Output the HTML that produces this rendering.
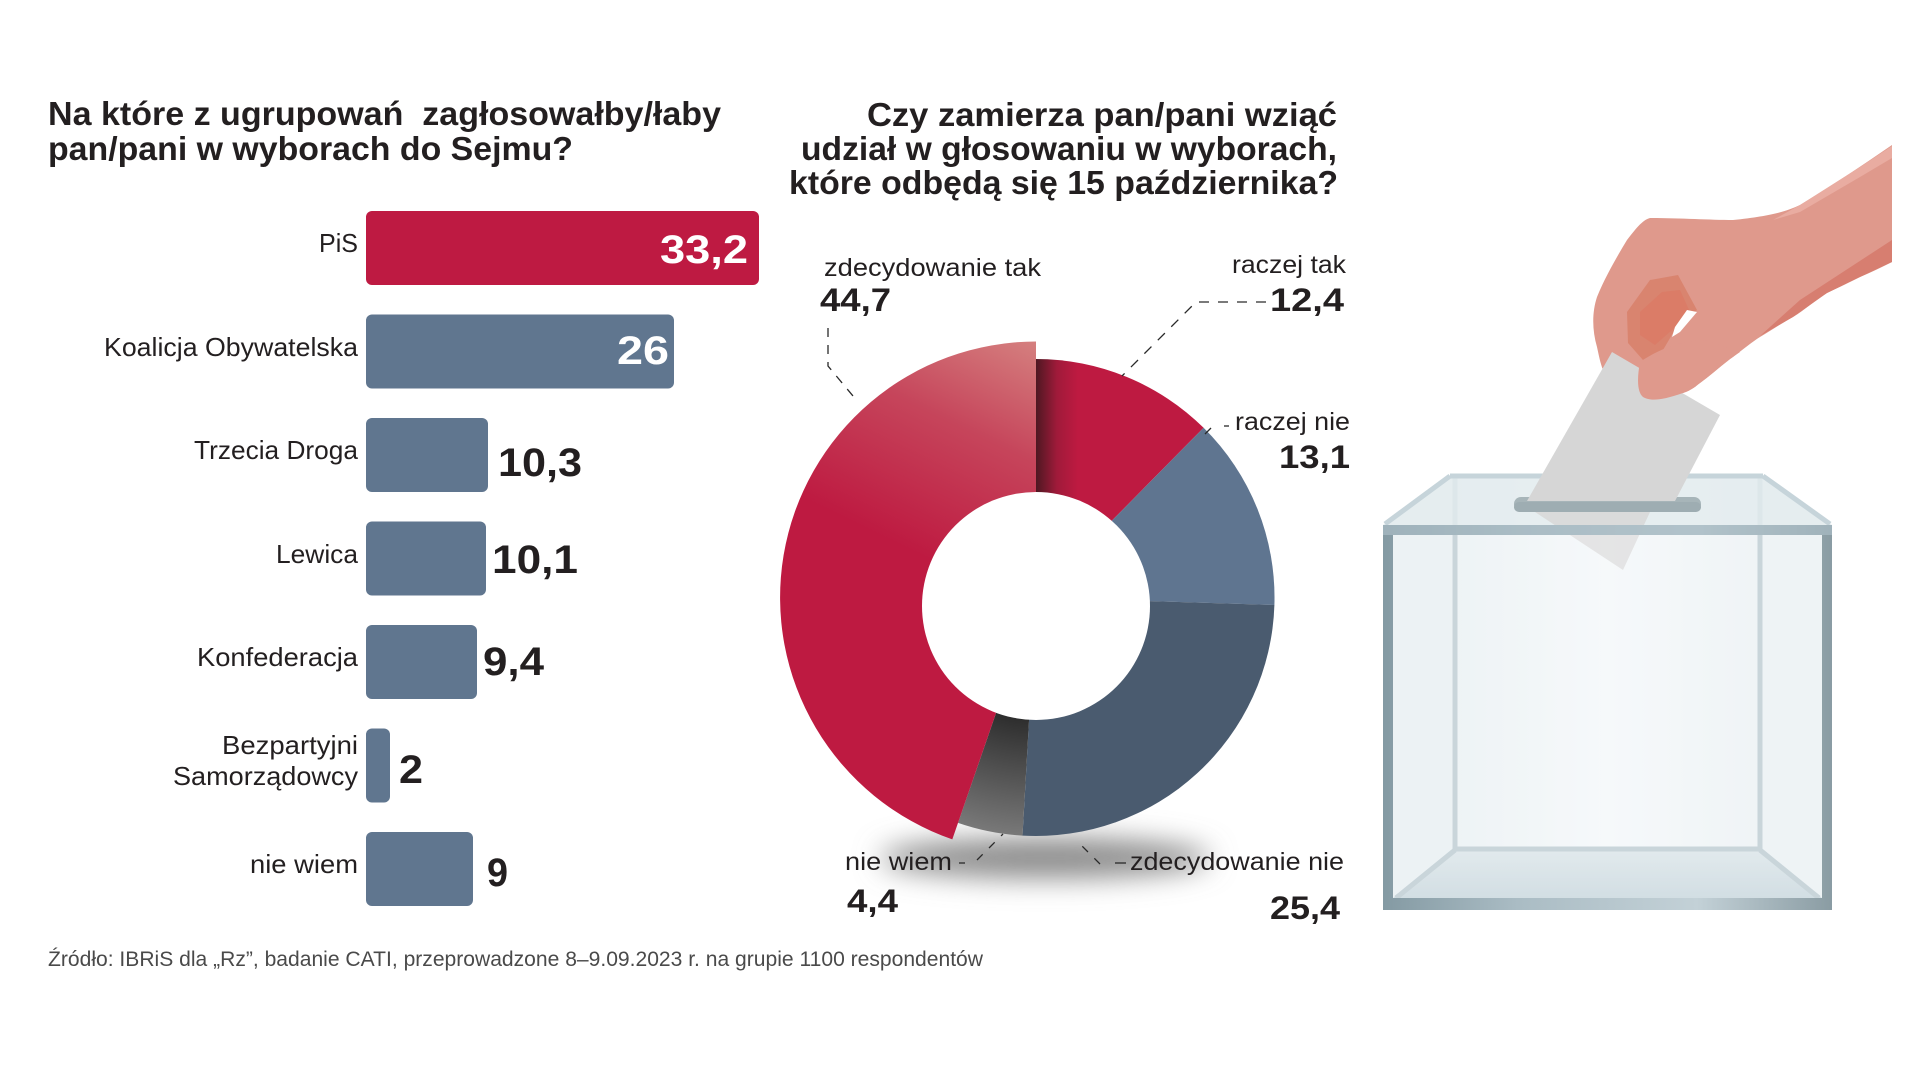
<!DOCTYPE html>
<html>
<head>
<meta charset="utf-8">
<style>
  html,body{margin:0;padding:0;background:#ffffff;}
  svg{display:block;}
  text{font-family:"Liberation Sans", sans-serif; white-space:pre;}
</style>
</head>
<body>
<svg width="1919" height="1080" viewBox="0 0 1919 1080" xmlns="http://www.w3.org/2000/svg">
  <defs>
    <linearGradient id="bigG" gradientUnits="userSpaceOnUse" x1="1036" y1="341" x2="930" y2="560">
      <stop offset="0" stop-color="#d5807f"/>
      <stop offset="0.45" stop-color="#c6455b"/>
      <stop offset="1" stop-color="#be1a41"/>
    </linearGradient>
    <linearGradient id="rtG" gradientUnits="userSpaceOnUse" x1="1036" y1="0" x2="1078" y2="0">
      <stop offset="0" stop-color="#4e1822"/>
      <stop offset="0.5" stop-color="#a01a3a"/>
      <stop offset="1" stop-color="#be1a41"/>
    </linearGradient>
    <radialGradient id="nwG" gradientUnits="userSpaceOnUse" cx="1036" cy="600" r="240">
      <stop offset="0.45" stop-color="#262626"/>
      <stop offset="1" stop-color="#7b7b7b"/>
    </radialGradient>
    <filter id="blur" x="-50%" y="-200%" width="200%" height="500%">
      <feGaussianBlur stdDeviation="14"/>
    </filter>
    <linearGradient id="frameG" x1="0" y1="0" x2="1" y2="0">
      <stop offset="0" stop-color="#849aa3"/>
      <stop offset="0.3" stop-color="#aabcc4"/>
      <stop offset="0.7" stop-color="#c3d1d7"/>
      <stop offset="1" stop-color="#8a9ca3"/>
    </linearGradient>
    <linearGradient id="floorG" x1="0" y1="0" x2="0" y2="1">
      <stop offset="0" stop-color="#d8e3e7"/>
      <stop offset="1" stop-color="#c3d3da"/>
    </linearGradient>
    <linearGradient id="backG" x1="0" y1="0" x2="1" y2="0">
      <stop offset="0" stop-color="#e8eff2"/>
      <stop offset="0.5" stop-color="#f3f7f9"/>
      <stop offset="1" stop-color="#eaf0f3"/>
    </linearGradient>
  </defs>

  <rect width="1919" height="1080" fill="#ffffff"/>

  <!-- LEFT TITLE -->
  <g fill="#231f20" font-weight="bold" font-size="33">
    <text x="48" y="125" textLength="673" lengthAdjust="spacingAndGlyphs">Na które z ugrupowań  zagłosowałby/łaby</text>
    <text x="48" y="160" textLength="525" lengthAdjust="spacingAndGlyphs">pan/pani w wyborach do Sejmu?</text>
  </g>

  <!-- BARS -->
  <g>
    <rect x="366" y="211" width="393" height="74" rx="6" fill="#be1a42"/>
    <rect x="366" y="314.5" width="308" height="74" rx="6" fill="#60768f"/>
    <rect x="366" y="418" width="122" height="74" rx="6" fill="#60768f"/>
    <rect x="366" y="521.5" width="120" height="74" rx="6" fill="#60768f"/>
    <rect x="366" y="625" width="111" height="74" rx="6" fill="#60768f"/>
    <rect x="366" y="728.5" width="24" height="74" rx="6" fill="#60768f"/>
    <rect x="366" y="832" width="107" height="74" rx="6" fill="#60768f"/>
  </g>

  <!-- BAR LABELS -->
  <g fill="#231f20" font-size="26" text-anchor="end">
    <text x="358" y="252" textLength="39" lengthAdjust="spacingAndGlyphs">PiS</text>
    <text x="358" y="356" textLength="254" lengthAdjust="spacingAndGlyphs">Koalicja Obywatelska</text>
    <text x="358" y="459" textLength="164" lengthAdjust="spacingAndGlyphs">Trzecia Droga</text>
    <text x="358" y="563" textLength="82" lengthAdjust="spacingAndGlyphs">Lewica</text>
    <text x="358" y="666" textLength="161" lengthAdjust="spacingAndGlyphs">Konfederacja</text>
    <text x="358" y="754" textLength="136" lengthAdjust="spacingAndGlyphs">Bezpartyjni</text>
    <text x="358" y="785" textLength="185" lengthAdjust="spacingAndGlyphs">Samorządowcy</text>
    <text x="358" y="873" textLength="108" lengthAdjust="spacingAndGlyphs">nie wiem</text>
  </g>

  <!-- BAR VALUES -->
  <g font-weight="bold" font-size="40">
    <text x="748" y="263" text-anchor="end" fill="#ffffff" textLength="88" lengthAdjust="spacingAndGlyphs">33,2</text>
    <text x="669" y="364" text-anchor="end" fill="#ffffff" textLength="52" lengthAdjust="spacingAndGlyphs">26</text>
    <text x="498" y="476" fill="#231f20" textLength="84" lengthAdjust="spacingAndGlyphs">10,3</text>
    <text x="492" y="573" fill="#231f20" textLength="86" lengthAdjust="spacingAndGlyphs">10,1</text>
    <text x="483" y="675" fill="#231f20" textLength="61" lengthAdjust="spacingAndGlyphs">9,4</text>
    <text x="399" y="783" fill="#231f20" textLength="24" lengthAdjust="spacingAndGlyphs">2</text>
    <text x="487" y="886" fill="#231f20" textLength="21" lengthAdjust="spacingAndGlyphs">9</text>
  </g>

  <!-- RIGHT TITLE -->
  <g fill="#231f20" font-weight="bold" font-size="33" text-anchor="end">
    <text x="1337" y="126" textLength="470" lengthAdjust="spacingAndGlyphs">Czy zamierza pan/pani wziąć</text>
    <text x="1337" y="160" textLength="536" lengthAdjust="spacingAndGlyphs">udział w głosowaniu w wyborach,</text>
    <text x="1338" y="194" textLength="549" lengthAdjust="spacingAndGlyphs">które odbędą się 15 października?</text>
  </g>

  <!-- DONUT SHADOW -->
  <ellipse cx="1045" cy="858" rx="165" ry="20" fill="#8a8a8a" filter="url(#blur)"/>

  <!-- DONUT -->
  <g>
    <path d="M1036,597.5 L1036,359 A238.5,238.5 0 0 1 1203.6,427.8 Z" fill="url(#rtG)"/>
    <path d="M1036,597.5 L1203.6,427.8 A238.5,238.5 0 0 1 1274.4,605 Z" fill="#5f7590"/>
    <path d="M1036,597.5 L1274.4,605 A238.5,238.5 0 0 1 1022.5,835.6 Z" fill="#4a5b6f"/>
    <path d="M1036,597.5 L1022.5,835.6 A238.5,238.5 0 0 1 958,822.9 Z" fill="url(#nwG)"/>
    <path d="M1036,597.5 L952.3,839.4 A256,256 0 0 1 1036,341.5 Z" fill="url(#bigG)"/>
    <circle cx="1036" cy="606" r="114" fill="#ffffff"/>
  </g>

  <!-- DONUT LEADERS -->
  <g stroke="#2a2a2a" stroke-width="1.3" fill="none">
    <path d="M828,328 L828,366 L858,402" stroke-dasharray="9,8"/>
    <path d="M1266,302 L1196,302 L1122,376" stroke-dasharray="10,9"/>
    <path d="M1224,426 L1229,426"/>
    <path d="M1211,428 L1205,434"/>
    <path d="M1115,863 L1126,863"/>
    <path d="M1100,864 L1076,840" stroke-dasharray="8,9"/>
    <path d="M959,863 L965,863"/>
    <path d="M977,860 L1003,834" stroke-dasharray="8,9"/>
  </g>

  <!-- DONUT LABELS -->
  <g fill="#231f20" font-size="25">
    <text x="824" y="276" textLength="217" lengthAdjust="spacingAndGlyphs">zdecydowanie tak</text>
    <text x="1346" y="273" text-anchor="end" textLength="114" lengthAdjust="spacingAndGlyphs">raczej tak</text>
    <text x="1350" y="430" text-anchor="end" textLength="115" lengthAdjust="spacingAndGlyphs">raczej nie</text>
    <text x="845" y="870" textLength="107" lengthAdjust="spacingAndGlyphs">nie wiem</text>
    <text x="1130" y="870" textLength="214" lengthAdjust="spacingAndGlyphs">zdecydowanie nie</text>
  </g>
  <g fill="#231f20" font-size="32" font-weight="bold">
    <text x="820" y="311" textLength="71" lengthAdjust="spacingAndGlyphs">44,7</text>
    <text x="1344" y="311" text-anchor="end" textLength="74" lengthAdjust="spacingAndGlyphs">12,4</text>
    <text x="1350" y="468" text-anchor="end" textLength="71" lengthAdjust="spacingAndGlyphs">13,1</text>
    <text x="847" y="912" textLength="51" lengthAdjust="spacingAndGlyphs">4,4</text>
    <text x="1340" y="919" text-anchor="end" textLength="70" lengthAdjust="spacingAndGlyphs">25,4</text>
  </g>

  <!-- FOOTER -->
  <text x="48" y="966" font-size="21" fill="#4a4a4a" textLength="935" lengthAdjust="spacingAndGlyphs">Źródło: IBRiS dla „Rz”, badanie CATI, przeprowadzone 8–9.09.2023 r. na grupie 1100 respondentów</text>

  <!-- BALLOT BOX -->
  <g>
    <!-- back face -->
    <rect x="1452" y="475" width="311" height="375" fill="url(#backG)"/>
    <!-- side panels -->
    <polygon points="1383,525 1452,475 1452,850 1393,898" fill="#e6eef1"/>
    <polygon points="1832,525 1763,475 1763,850 1822,898" fill="#e8eff2"/>
    <!-- floor -->
    <polygon points="1455,850 1760,850 1822,898 1393,898" fill="url(#floorG)"/>
    <!-- back edges -->
    <g stroke="#b7c7ce" stroke-width="5" fill="none">
      <line x1="1455" y1="478" x2="1455" y2="850"/>
      <line x1="1760" y1="478" x2="1760" y2="850"/>
      <line x1="1455" y1="849" x2="1760" y2="849"/>
      <line x1="1455" y1="850" x2="1396" y2="898"/>
      <line x1="1760" y1="850" x2="1819" y2="898"/>
    </g>
    <!-- lid -->
    <polygon points="1450,475 1763,475 1832,525 1383,525" fill="#e4ecef" opacity="0.85"/>
    <g stroke="#c6d4da" stroke-width="5" fill="none">
      <line x1="1450" y1="476" x2="1763" y2="476"/>
      <line x1="1450" y1="476" x2="1385" y2="524"/>
      <line x1="1763" y1="476" x2="1830" y2="524"/>
    </g>
    <!-- slot back -->
    <rect x="1514" y="497" width="187" height="15" rx="7" fill="#a7b5b9"/>
    <!-- paper lower part inside box -->
    <polygon points="1535,512 1650,512 1623,570" fill="#d8d8d8" opacity="0.9"/>
    <!-- front face glass -->
    <rect x="1393" y="535" width="429" height="363" fill="#ffffff" opacity="0.25"/>
    <!-- front frame -->
    <path d="M1383,525 H1832 V910 H1383 Z M1393,535 V898 H1822 V535 Z" fill="url(#frameG)" fill-rule="evenodd"/>
    <rect x="1383" y="525" width="449" height="10" fill="#a9bcc4" opacity="0.7"/>
  </g>

  <!-- HAND -->
  <g>
    <path d="M1892,145 C1860,167 1830,187 1800,205 C1785,212 1770,216 1733,220 C1710,220 1680,218 1650,218 C1642,220 1635,230 1627,240 C1618,255 1606,275 1597,297 C1592,312 1592,330 1597,347 C1599,356 1600,362 1603,370 L1640,370 C1637,380 1638,392 1643,397 C1650,401 1660,401 1683,393 C1692,390 1696,386 1700,383 C1715,372 1725,362 1733,357 C1745,348 1752,342 1760,337 C1772,330 1782,323 1793,317 C1805,310 1815,300 1827,293 C1840,287 1850,282 1860,277 C1872,272 1882,267 1892,262 Z" fill="#df998c"/>
    <polygon points="1892,146 1892,158 1860,177 1800,212 1773,220 1800,205 1860,167" fill="#e9aca1"/>
    <polygon points="1760,336 1800,300 1892,240 1892,262 1860,277 1827,293 1793,317" fill="#d77e70"/>
    <polygon points="1650,280 1678,275 1697,310 1673,333 1663,350 1643,360 1628,343 1627,312" fill="#d9846f"/>
    <polygon points="1662,292 1680,290 1690,312 1672,330 1655,345 1640,335 1640,312" fill="#dc7662" opacity="0.6"/>
    <polygon points="1697,312 1687,310 1675,327 1672,337 1680,332" fill="#ffffff"/>
    <!-- paper upper -->
    <polygon points="1612,352 1720,415 1675,501 1527,501" fill="#d6d6d6"/>
    <!-- thumb over paper -->
    <path d="M1640,362 C1637,378 1637,392 1643,397 C1650,401 1660,401 1683,393 C1692,390 1696,386 1700,383 C1715,372 1725,362 1740,352 L1705,340 C1685,340 1660,348 1640,362 Z" fill="#df998c"/>
    <!-- slot front lip -->
    <rect x="1514" y="502" width="187" height="10" rx="5" fill="#9eadb2"/>
  </g>
</svg>
</body>
</html>
